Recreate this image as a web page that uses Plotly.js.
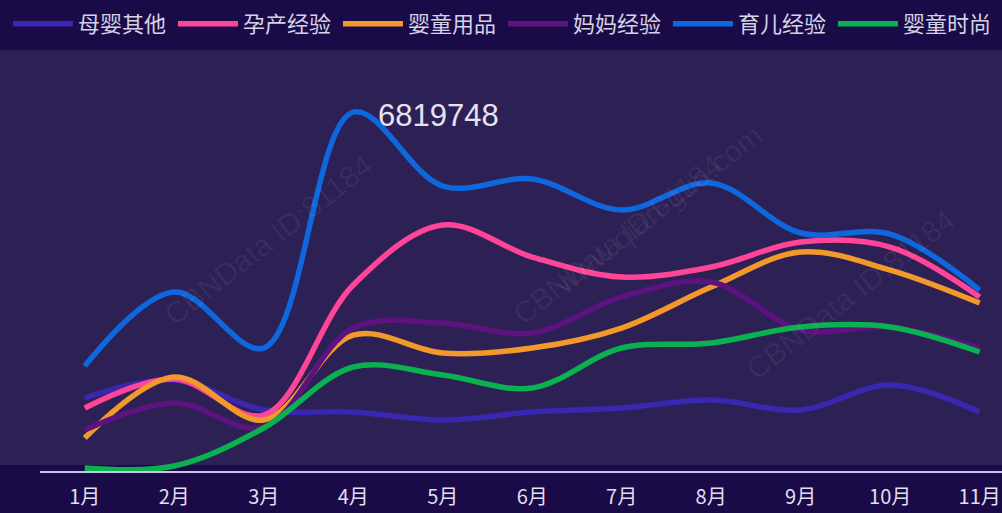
<!DOCTYPE html>
<html>
<head>
<meta charset="utf-8">
<script src="https://cdn.plot.ly/plotly-3.0.1.min.js"></script>
<style>
html,body{margin:0;padding:0;background:#1a0b48;}
#chart{width:1002px;height:513px;}
</style>
</head>
<body>
<div id="chart"></div>
<script>
const months = ['1月','2月','3月','4月','5月','6月','7月','8月','9月','10月','11月'];
const seriesNames = ['母婴其他','孕产经验','婴童用品','妈妈经验','育儿经验','婴童时尚'];
const muyingqita = [1387000,1729000,1159000,1121000,969000,1121000,1197000,1349000,1159000,1634000,1121000];
const yunchanjingyan = [1197000,1748000,1064000,3534000,4674000,4066000,3686000,3876000,4351000,4256000,3306000];
const yingtongyongpin = [627000,1786000,969000,2584000,2242000,2337000,2717000,3496000,4161000,3819000,3192000];
const mamajingyan = [779000,1292000,836000,2717000,2812000,2622000,3306000,3591000,2679000,2736000,2337000];
const yuerjingyan = [1995000,3401000,2337000,6819748,5415000,5548000,4959000,5472000,4522000,4503000,3439000];
const yingtongshishang = [57000,95000,817000,1976000,1824000,1577000,2337000,2432000,2736000,2736000,2261000];
const colors = ['#3a27b0','#ff4597','#f3992b','#5c127f','#0e67dd','#0ab14f'];
const allValues = [muyingqita,yunchanjingyan,yingtongyongpin,mamajingyan,yuerjingyan,yingtongshishang];

const traces = allValues.map((vals,i)=>({
  type:'scatter', mode:'lines', name:seriesNames[i], x:months, y:vals,
  line:{color:colors[i], width:5.5, shape:'spline', smoothing:1},
  hoverinfo:'x+y+name'
}));

const wm = {font:{family:'Liberation Sans, sans-serif', size:30, color:'rgba(255,255,255,0.06)'}, showarrow:false, textangle:-38, xref:'paper', yref:'paper'};
const peakIdx = yuerjingyan.indexOf(Math.max(...yuerjingyan));

const layout = {
  width:1002, height:513,
  paper_bgcolor:'#1a0b48',
  plot_bgcolor:'rgba(0,0,0,0)',
  margin:{l:40, r:0, t:50, b:42, autoexpand:false},
  font:{family:'Noto Sans CJK SC, Noto Sans, sans-serif', color:'#e2deef'},
  showlegend:true,
  legend:{orientation:'h', x:-0.0333, xref:'paper', y:1.112, yref:'paper', yanchor:'top', xanchor:'left',
    font:{size:22, color:'#d6d2e6'}, bgcolor:'rgba(0,0,0,0)', itemwidth:60, entrywidth:90, entrywidthmode:'pixels', traceorder:'normal'},
  xaxis:{type:'category', range:[-0.5,10.25], showgrid:false, zeroline:false, showline:true, linecolor:'#c9c2ea', linewidth:2,
    ticks:'', tickfont:{size:20, color:'#e2deef', family:'Noto Sans CJK SC, sans-serif'}, ticklabelstandoff:7, fixedrange:true},
  yaxis:{range:[0,8000000], showgrid:false, zeroline:false, showline:false, showticklabels:false, ticks:'', fixedrange:true},
  shapes:[{type:'rect', xref:'paper', yref:'paper', x0:-0.0416, x1:1, y0:0.014, y1:1, fillcolor:'#2d2055', line:{width:0}, layer:'below'}],
  annotations:[
    {x:months[peakIdx], y:yuerjingyan[peakIdx], xref:'x', yref:'y', text:String(yuerjingyan[peakIdx]), showarrow:false,
     xanchor:'left', yanchor:'middle', xshift:23, yshift:-3, font:{size:31, color:'#e6e2ef', family:'Liberation Sans, Arial, sans-serif'}},
    Object.assign({}, wm, {text:'CBNData ID:81184', x:0.12, y:0.55}),
    Object.assign({}, wm, {text:'CBNData ID:81184', x:0.6, y:0.55}),
    Object.assign({}, wm, {text:'CBNData ID:81184', x:0.96, y:0.42}),
    Object.assign({}, wm, {text:'www.qian-gua.com', x:0.76, y:0.62})
  ]
};

Plotly.newPlot('chart', traces, layout, {displayModeBar:false, staticPlot:true});
</script>
</body>
</html>
